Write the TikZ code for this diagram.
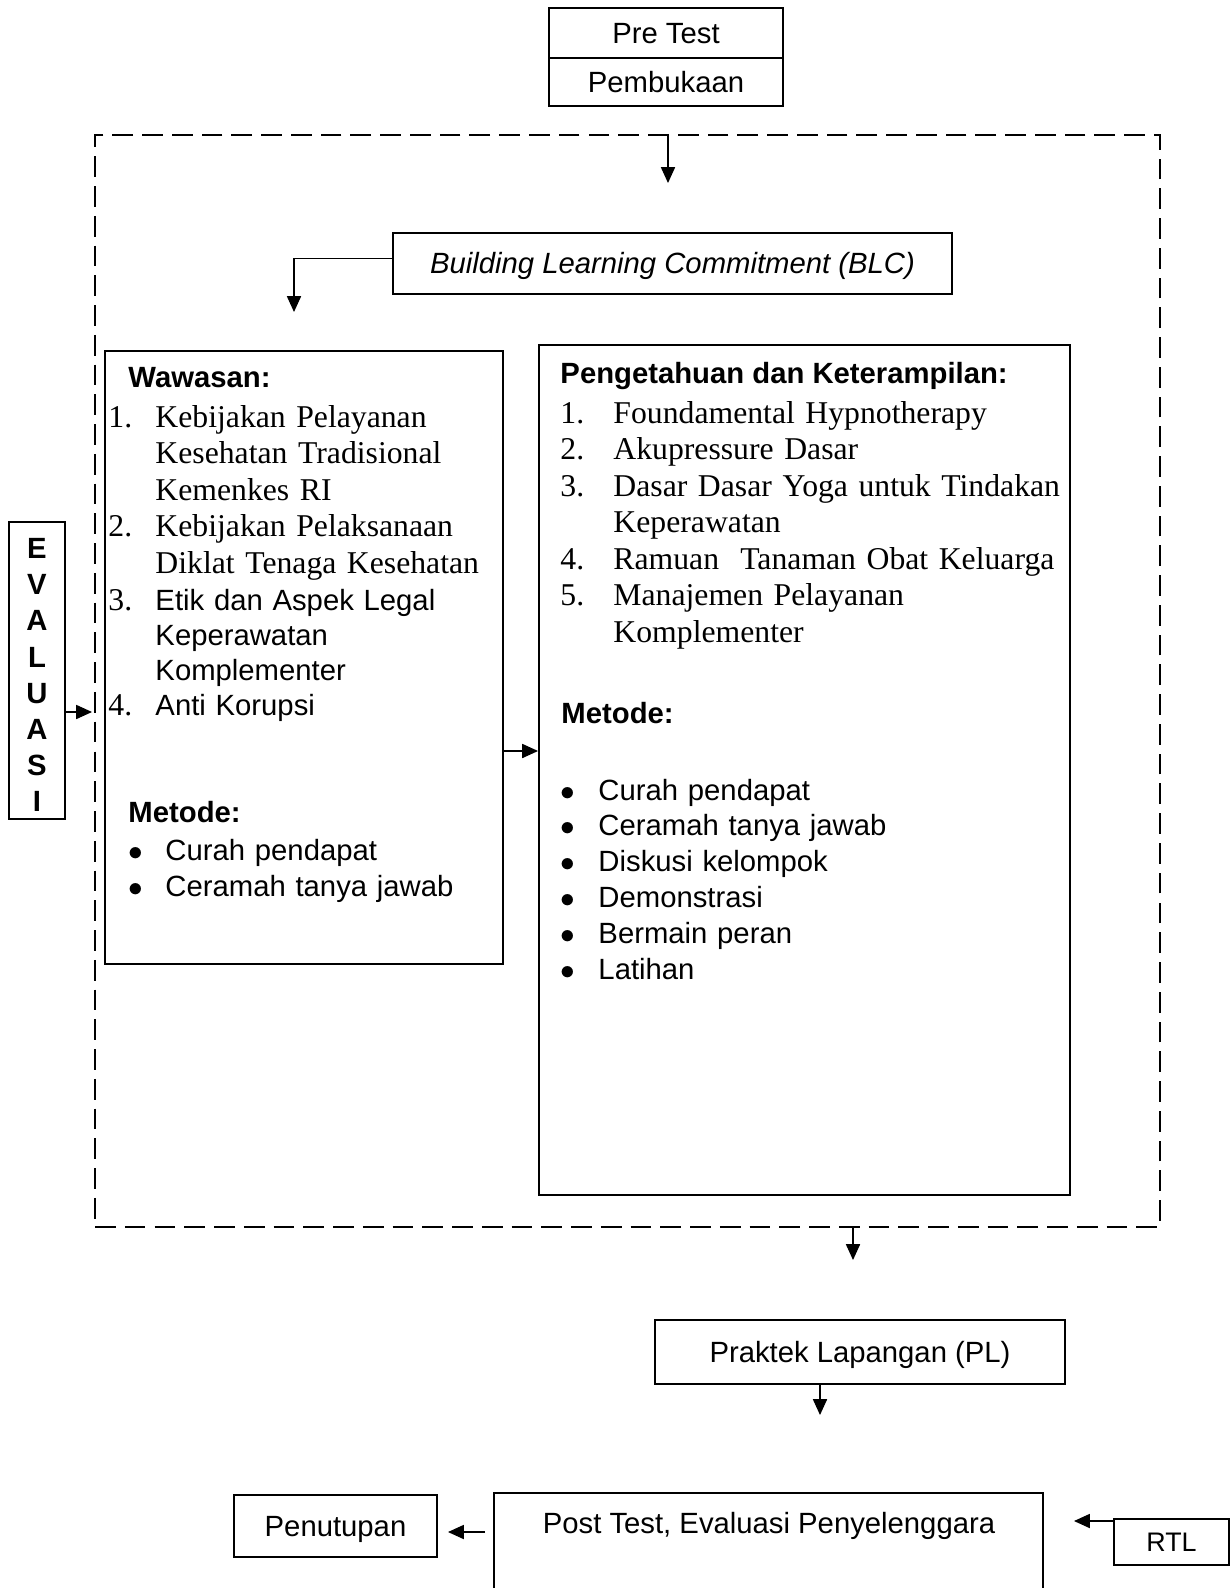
\documentclass[tikz,border=0pt]{standalone}
\usepackage{fontspec}
\setmainfont{Liberation Serif}
\setsansfont{Liberation Sans}
\usetikzlibrary{arrows.meta,fit}

\newdimen\pxu \pxu=0.41pt
\newcommand{\numbox}[2]{\makebox[#1\pxu][l]{\rmfamily\fontsize{13}{15}\selectfont #2}}
\newcommand{\bul}[1]{\makebox[#1\pxu][l]{$\bullet$}}

\tikzset{
  box/.style={draw, line width=0.8pt, inner sep=0pt},
  textbox/.style={box, text height=8.6pt, text depth=0pt},
  sanstext/.style={font=\sffamily\fontsize{12}{14.4}\selectfont},
  headtext/.style={font=\sffamily\bfseries\fontsize{12}{14.4}\selectfont, anchor=base west, inner sep=0pt},
  listtext/.style={anchor=base west, inner sep=0pt, align=left, text width=#1},
  arr/.style={-{Triangle[length=6.5pt,width=5.8pt]}, line width=0.5pt},
}

\begin{document}
\begin{tikzpicture}[x=0.41pt, y=-0.41pt]
            \useasboundingbox (0,0) rectangle (1230,1588);
            \clip (0,0) rectangle (1230,1588);

            % Opening boxes
            \node[textbox, sanstext, minimum width=234\pxu, minimum height=50\pxu] (pretest) at (666,33) {Pre Test};
            \node[textbox, sanstext, minimum width=234\pxu, minimum height=48\pxu] (pembukaan) at (666,82) {Pembukaan};

            % Dashed frame
            \node[box, line width=0.9pt, dash pattern=on 8.5pt off 3.7pt, fit={(95,135) (1160,1227)}] (frame) {};

            % BLC
            \node[textbox, font=\sffamily\itshape\fontsize{12}{14.4}\selectfont, minimum width=559\pxu, minimum height=61\pxu] (blc) at (672.5,263.5) {Building Learning Commitment (BLC)};

            % Evaluasi
            \node[box, fit={(9,522) (65,819)}] (evalbox) {};
            \node[font=\sffamily\bfseries\fontsize{12}{14.8}\selectfont, align=center, inner sep=0pt] (evaltxt) at (37,675) {E\\V\\A\\L\\U\\A\\S\\I};

            % Wawasan
            \node[box, fit={(105,351) (503,964)}] (wawasan) {};
            \node[headtext] (wawasanhead) at (128,387) {Wawasan:};
            \node[listtext=420\pxu, font=\rmfamily\fontsize{13}{15}\selectfont] (wawasanA) at (108,427)
              {\numbox{47}{1.}Kebijakan Pelayanan\\ \hspace*{47\pxu}Kesehatan Tradisional\\ \hspace*{47\pxu}Kemenkes RI\\
               \numbox{47}{2.}Kebijakan Pelaksanaan\\ \hspace*{47\pxu}Diklat Tenaga Kesehatan};
            \node[listtext=420\pxu, sanstext] (wawasanB) at (108,610)
              {\numbox{47}{3.}Etik dan Aspek Legal\\ \hspace*{47\pxu}Keperawatan\\ \hspace*{47\pxu}Komplementer\\
               \numbox{47}{4.}Anti Korupsi};
            \node[headtext] (metodeA) at (128,822) {Metode:};
            \node[listtext=420\pxu, font=\sffamily\fontsize{12}{15.1}\selectfont] (metodeAlist) at (128,860)
              {\bul{37}Curah pendapat\\ \bul{37}Ceramah tanya jawab};

            % Pengetahuan dan Keterampilan
            \node[box, fit={(539,345) (1070,1195)}] (pengetahuan) {};
            \node[headtext] (pengetahuanhead) at (560,383) {Pengetahuan dan Keterampilan:};
            \node[listtext=600\pxu, font=\rmfamily\fontsize{13}{15}\selectfont] (pengetahuanlist) at (560,423)
              {\numbox{53}{1.}Foundamental Hypnotherapy\\ \numbox{53}{2.}Akupressure Dasar\\
               \numbox{53}{3.}Dasar Dasar Yoga untuk Tindakan\\ \hspace*{53\pxu}Keperawatan\\
               \numbox{53}{4.}Ramuan\ \ Tanaman Obat Keluarga\\ \numbox{53}{5.}Manajemen Pelayanan\\
               \hspace*{53\pxu}Komplementer};
            \node[headtext] (metodeB) at (561,723) {Metode:};
            \node[listtext=600\pxu, font=\sffamily\fontsize{12}{14.7}\selectfont] (metodeBlist) at (560,800)
              {\bul{38}Curah pendapat\\ \bul{38}Ceramah tanya jawab\\ \bul{38}Diskusi kelompok\\
               \bul{38}Demonstrasi\\ \bul{38}Bermain peran\\ \bul{38}Latihan};

            % Closing boxes
            \node[textbox, sanstext, minimum width=410\pxu, minimum height=64\pxu] (pl) at (860,1352) {Praktek Lapangan (PL)};
            \node[box, fit={(494,1493) (1043,1620)}] (post) {};
            \node[sanstext, anchor=base, inner sep=0pt] (posttxt) at (769,1533) {Post Test, Evaluasi Penyelenggara};
            \node[textbox, sanstext, minimum width=203\pxu, minimum height=62\pxu] (penutupan) at (335.5,1526) {Penutupan};
            \node[textbox, font=\sffamily\fontsize{11}{13}\selectfont, text height=7.9pt, minimum width=115\pxu, minimum height=46\pxu] (rtl) at (1171.5,1542) {RTL};

            % Connectors
            \coordinate (topend) at (668,183);
            \coordinate (blcend) at (294,312);
            \coordinate (evalend) at (92,712);
            \coordinate (midpt) at (520,751);
            \coordinate (botend) at (853,1260);
            \coordinate (plend) at (820,1415);
            \coordinate (penend) at (448,1532);
            \coordinate (rtlend) at (1074,1521);
            \draw[arr] (topend |- frame.north) -- (topend);
            \draw[arr] ([yshift=2pt]blc.west) -| (blcend);
            \draw[arr] (evalbox.east |- evalend) -- (evalend);
            \draw[arr] (wawasan.east |- midpt) -- (pengetahuan.west |- midpt);
            \draw[arr] (botend |- frame.south) -- (botend);
            \draw[arr] (plend |- pl.south) -- (plend);
            \draw[arr, shorten <=8\pxu] (post.west |- penend) -- (penend);
            \draw[arr] (rtl.west |- rtlend) -- (rtlend);
\end{tikzpicture}
\end{document}
